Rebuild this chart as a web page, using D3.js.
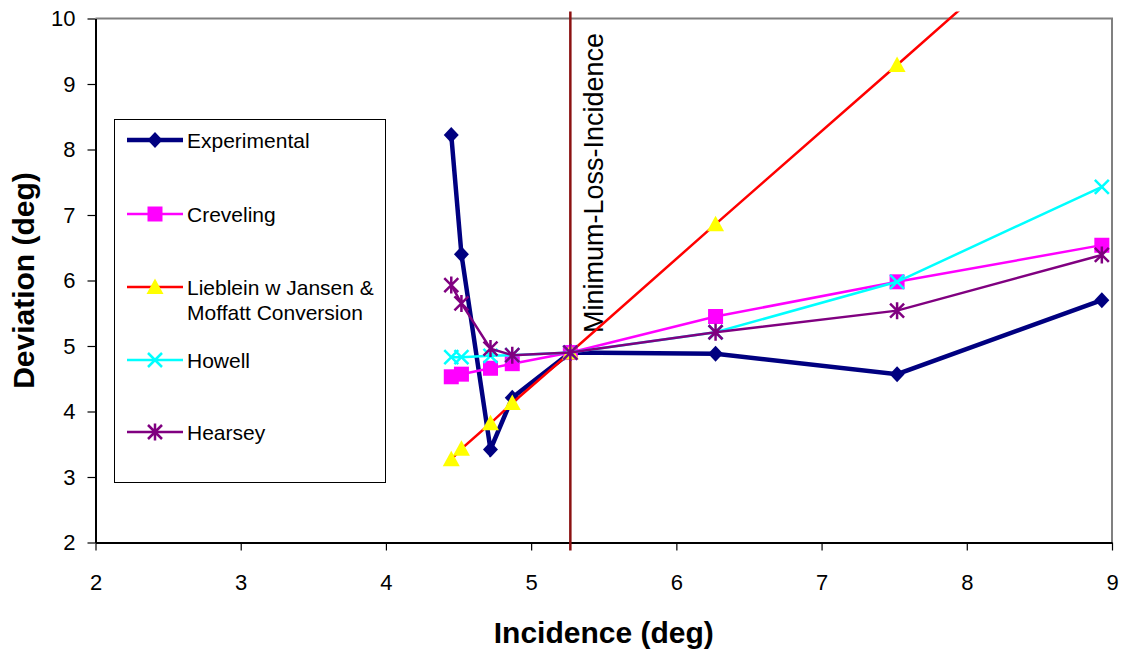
<!DOCTYPE html>
<html>
<head>
<meta charset="utf-8">
<script src="https://cdn.jsdelivr.net/npm/d3@7"></script>
<style>
  html, body { margin: 0; padding: 0; background: #fff; }
  svg { display: block; font-family: Arial, "Liberation Sans", sans-serif; }
</style>
</head>
<body>
<svg id="chart" width="1124" height="651"></svg>
<script>
// Incidence angles (deg) shared by every series
const incidence = [4.45, 4.52, 4.72, 4.87, 5.27, 6.27, 7.52, 8.93];

// Deviation (deg) per method
const experimental = [8.22, 6.40, 3.42, 4.21, 4.90, 4.88, 4.57, 5.70];
const creveling    = [4.53, 4.57, 4.66, 4.73, 4.90, 5.45, 5.98, 6.54];
const lieblein     = [3.27, 3.43, 3.82, 4.13, 4.90, 6.86, 9.29, 12.05];
const howell       = [4.83, 4.83, 4.85, 4.86, 4.90, 5.21, 5.98, 7.43];
const hearsey      = [5.93, 5.65, 4.96, 4.86, 4.90, 5.21, 5.54, 6.39];

const minLossIncidence = 5.27;

const xTicks = [2, 3, 4, 5, 6, 7, 8, 9];
const yTicks = [2, 3, 4, 5, 6, 7, 8, 9, 10];

const seriesNames = ["Experimental", "Creveling", "Lieblein w Jansen &\nMoffatt Conversion", "Howell", "Hearsey"];
const seriesValues = [experimental, creveling, lieblein, howell, hearsey];

const styles = [
  { line: "#000080", width: 4.5, marker: "diamond",  fill: "#000080", stroke: "none" },
  { line: "#FF00FF", width: 2.5, marker: "square",   fill: "#FF00FF", stroke: "none" },
  { line: "#FF0000", width: 2.5, marker: "triangle", fill: "#FFFF00", stroke: "none" },
  { line: "#00FFFF", width: 2.5, marker: "cross",    fill: "none",    stroke: "#00FFFF" },
  { line: "#800080", width: 2.5, marker: "star",     fill: "none",    stroke: "#800080" }
];

const plot = { left: 95.5, top: 18.5, right: 1112, bottom: 542.5 };

const svg = d3.select("#chart");

const x = d3.scaleLinear().domain([2, 9]).range([plot.left, plot.right]);
const y = d3.scaleLinear().domain([2, 10]).range([plot.bottom, plot.top]);

// Marker path generators (centred on 0,0)
function markerPath(kind) {
  switch (kind) {
    case "diamond":  return "M0,-8L7.5,0L0,8L-7.5,0Z";
    case "square":   return "M-7.5,-7.5H7.5V7.5H-7.5Z";
    case "triangle": return "M0,-8.5L8.5,7H-8.5Z";
    case "cross":    return "M-7,-7L7,7M-7,7L7,-7";
    case "star":     return "M-7,-7L7,7M-7,7L7,-7M0,-8.5V8.5";
  }
}
function drawMarker(g, st, cx, cy) {
  g.append("path")
    .attr("d", markerPath(st.marker))
    .attr("transform", `translate(${cx},${cy})`)
    .attr("fill", st.fill)
    .attr("stroke", st.stroke)
    .attr("stroke-width", st.stroke === "none" ? 0 : 2.5);
}

// Frame: grey top and right edges
svg.append("path")
  .attr("d", `M${plot.left},${plot.top}H${plot.right}V${plot.bottom}`)
  .attr("fill", "none")
  .attr("stroke", "#808080")
  .attr("stroke-width", 2);

// Axes
const yAxis = d3.axisLeft(y).tickValues(yTicks).tickFormat(d3.format("d"))
  .tickSize(8).tickSizeOuter(0).tickPadding(12);
const xAxis = d3.axisBottom(x).tickValues(xTicks).tickFormat(d3.format("d"))
  .tickSize(8).tickSizeOuter(0).tickPadding(24);

const gy = svg.append("g").attr("transform", `translate(${plot.left},0)`).call(yAxis);
const gx = svg.append("g").attr("transform", `translate(0,${plot.bottom})`).call(xAxis);

[gx, gy].forEach(g => {
  g.select(".domain").attr("stroke", "#000").attr("stroke-width", 2);
  g.selectAll(".tick line").attr("stroke", "#000").attr("stroke-width", 1.2);
  g.selectAll(".tick text")
    .attr("fill", "#000")
    .style("font-size", "22px")
    .style("font-family", "Arial, 'Liberation Sans', sans-serif");
});
gx.selectAll(".tick text").attr("dy", "0.71em");

// Minimum-loss incidence marker line
svg.append("line")
  .attr("x1", x(minLossIncidence)).attr("x2", x(minLossIncidence))
  .attr("y1", plot.top - 7).attr("y2", plot.bottom + 8)
  .attr("stroke", "#8B1111")
  .attr("stroke-width", 2.5);

svg.append("text")
  .attr("transform", `translate(${x(minLossIncidence) + 33},${333}) rotate(-90)`)
  .attr("text-anchor", "start")
  .style("font-size", "27px")
  .attr("fill", "#000")
  .text("Minimum-Loss-Incidence");

// Clip the series a little above the plot top
svg.append("clipPath").attr("id", "plotClip")
  .append("rect")
  .attr("x", plot.left - 10).attr("y", plot.top - 7)
  .attr("width", plot.right - plot.left + 20)
  .attr("height", plot.bottom - plot.top + 17);

const seriesLayer = svg.append("g").attr("clip-path", "url(#plotClip)");
const line = d3.line().x(d => x(d[0])).y(d => y(d[1]));

seriesValues.forEach((vals, i) => {
  const st = styles[i];
  const pts = incidence.map((v, k) => [v, vals[k]]);
  const g = seriesLayer.append("g");
  g.append("path")
    .attr("d", line(pts))
    .attr("fill", "none")
    .attr("stroke", st.line)
    .attr("stroke-width", st.width)
    .attr("stroke-linejoin", "miter");
  pts.filter(p => p[1] <= 10).forEach(p => drawMarker(g, st, x(p[0]), y(p[1])));
});

// Legend
const legend = svg.append("g");
legend.append("rect")
  .attr("x", 114.5).attr("y", 119.5)
  .attr("width", 271).attr("height", 363)
  .attr("fill", "#fff")
  .attr("stroke", "#000")
  .attr("stroke-width", 1);

const legendRows = [140, 214, 287, 360, 432];
seriesNames.forEach((name, i) => {
  const st = styles[i];
  const cy = legendRows[i];
  legend.append("line")
    .attr("x1", 127).attr("x2", 183)
    .attr("y1", cy).attr("y2", cy)
    .attr("stroke", st.line)
    .attr("stroke-width", st.width);
  drawMarker(legend, st, 155, cy);
  const lines = name.split("\n");
  const t = legend.append("text")
    .attr("x", 187).attr("y", cy)
    .attr("fill", "#000")
    .style("font-size", "21px");
  lines.forEach((ln, k) => {
    t.append("tspan")
      .attr("x", 187)
      .attr("dy", k === 0 ? "0.36em" : "1.2em")
      .text(ln);
  });
});

// Axis titles
svg.append("text")
  .attr("transform", `translate(${34},${(plot.top + plot.bottom) / 2}) rotate(-90)`)
  .attr("text-anchor", "middle")
  .style("font-size", "30px")
  .style("font-weight", "bold")
  .attr("fill", "#000")
  .text("Deviation (deg)");

svg.append("text")
  .attr("x", (plot.left + plot.right) / 2)
  .attr("y", 643)
  .attr("text-anchor", "middle")
  .style("font-size", "30px")
  .style("font-weight", "bold")
  .attr("fill", "#000")
  .text("Incidence (deg)");
</script>
</body>
</html>
